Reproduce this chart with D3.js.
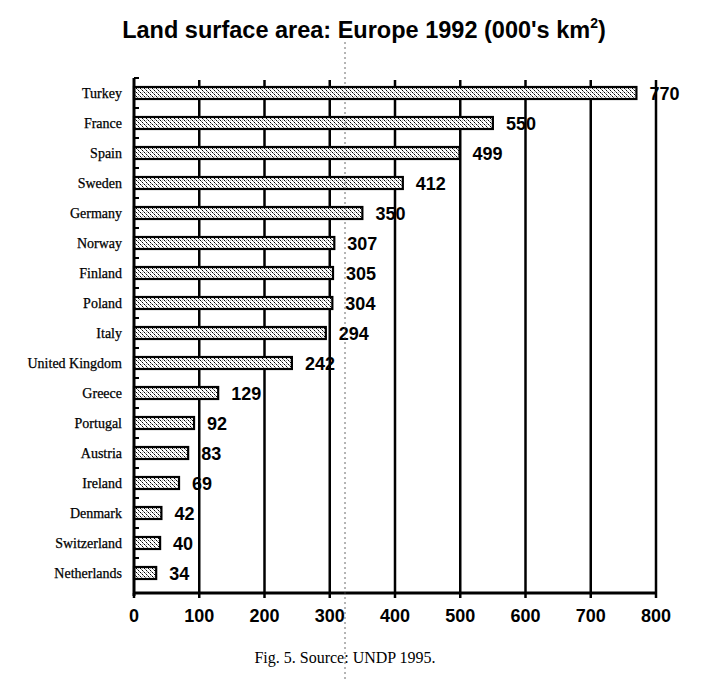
<!DOCTYPE html>
<html><head><meta charset="utf-8">
<script src="https://cdn.jsdelivr.net/npm/d3@7/dist/d3.min.js"></script>
<style>body{margin:0;background:#fff}</style>
</head><body>
<script>
const categories = ["Turkey","France","Spain","Sweden","Germany","Norway","Finland","Poland","Italy","United Kingdom","Greece","Portugal","Austria","Ireland","Denmark","Switzerland","Netherlands"];
const values = [770,550,499,412,350,307,305,304,294,242,129,92,83,69,42,40,34];
const xTicks = [0,100,200,300,400,500,600,700,800];

const W=702,H=682;
const svg=d3.select("body").append("svg").attr("width",W).attr("height",H);
const defs=svg.append("defs");
const pat=defs.append("pattern").attr("id","dots").attr("width",4).attr("height",4).attr("patternUnits","userSpaceOnUse");
pat.append("rect").attr("width",4).attr("height",4).attr("fill","#fff");
[[0,0,"#000"],[2,2,"#000"],[1,1,"#777"],[3,3,"#777"],[2,0,"#bbb"]].forEach(([a,b,c])=>
  pat.append("rect").attr("x",a).attr("y",b).attr("width",1).attr("height",1).attr("fill",c));

const x=d3.scaleLinear().domain([0,800]).range([134,656]);
const y=d3.scaleBand().domain(categories).range([78,588]).paddingInner(0.6).paddingOuter(0.3);
const yBottom=593;
const sans="Liberation Sans, Arial, sans-serif", serif="Liberation Serif, Times New Roman, serif";

// title
const t=svg.append("text").attr("x",364).attr("y",38).attr("text-anchor","middle")
  .attr("font-family",sans).attr("font-weight","bold").attr("font-size",23.5);
t.append("tspan").text("Land surface area: Europe 1992 (000's km");
t.append("tspan").attr("font-size",14).attr("dy",-10).text("2");
t.append("tspan").attr("dy",10).text(")");

// gridlines
svg.append("g").selectAll("line").data(xTicks.slice(1)).join("line")
  .attr("x1",d=>x(d)).attr("x2",d=>x(d)).attr("y1",80).attr("y2",yBottom)
  .attr("stroke","#000").attr("stroke-width",2.5);

// bars
svg.append("g").selectAll("rect").data(categories).join("rect")
  .attr("x",x(0)).attr("y",d=>y(d)).attr("height",y.bandwidth())
  .attr("width",(d,i)=>x(values[i])-x(0))
  .attr("fill","url(#dots)").attr("stroke","#000").attr("stroke-width",2.2);

// value labels
svg.append("g").selectAll("text").data(categories).join("text")
  .attr("x",(d,i)=>x(values[i])+13).attr("y",d=>y(d)+y.bandwidth()/2+6.5)
  .attr("font-family",sans).attr("font-weight","bold").attr("font-size",18)
  .text((d,i)=>values[i]);

// category labels
svg.append("g").selectAll("text").data(categories).join("text")
  .attr("x",122).attr("y",d=>y(d)+y.bandwidth()/2+4.5).attr("text-anchor","end")
  .attr("font-family",serif).attr("font-size",14).attr("stroke","#000").attr("stroke-width",0.25)
  .text(d=>d);

// left axis line
svg.append("line").attr("x1",x(0)).attr("x2",x(0)).attr("y1",78).attr("y2",yBottom+3)
  .attr("stroke","#000").attr("stroke-width",3);
// separator ticks
const sep=d3.range(categories.length).map(i=>y(categories[i])-y.step()*0.3);
svg.append("g").selectAll("line").data(sep).join("line")
  .attr("x1",x(0)).attr("x2",x(0)+5).attr("y1",d=>d).attr("y2",d=>d)
  .attr("stroke","#000").attr("stroke-width",2);

// bottom axis
svg.append("line").attr("x1",x(0)-1).attr("x2",x(800)+1).attr("y1",yBottom).attr("y2",yBottom)
  .attr("stroke","#000").attr("stroke-width",3);
svg.append("g").selectAll("line").data(xTicks).join("line")
  .attr("x1",d=>x(d)).attr("x2",d=>x(d)).attr("y1",yBottom).attr("y2",yBottom+5)
  .attr("stroke","#000").attr("stroke-width",2.5);
svg.append("g").selectAll("text").data(xTicks).join("text")
  .attr("x",d=>x(d)).attr("y",622).attr("text-anchor","middle")
  .attr("font-family",sans).attr("font-weight","bold").attr("font-size",18)
  .text(d=>d);

// caption
svg.append("text").attr("x",345).attr("y",663).attr("text-anchor","middle")
  .attr("font-family",serif).attr("font-size",16)
  .text("Fig. 5. Source: UNDP 1995.");

// scan fold line
svg.append("line").attr("x1",345).attr("x2",345).attr("y1",42).attr("y2",682)
  .attr("stroke","#444").attr("stroke-width",0.8).attr("stroke-dasharray","2,3");
</script>
</body></html>
